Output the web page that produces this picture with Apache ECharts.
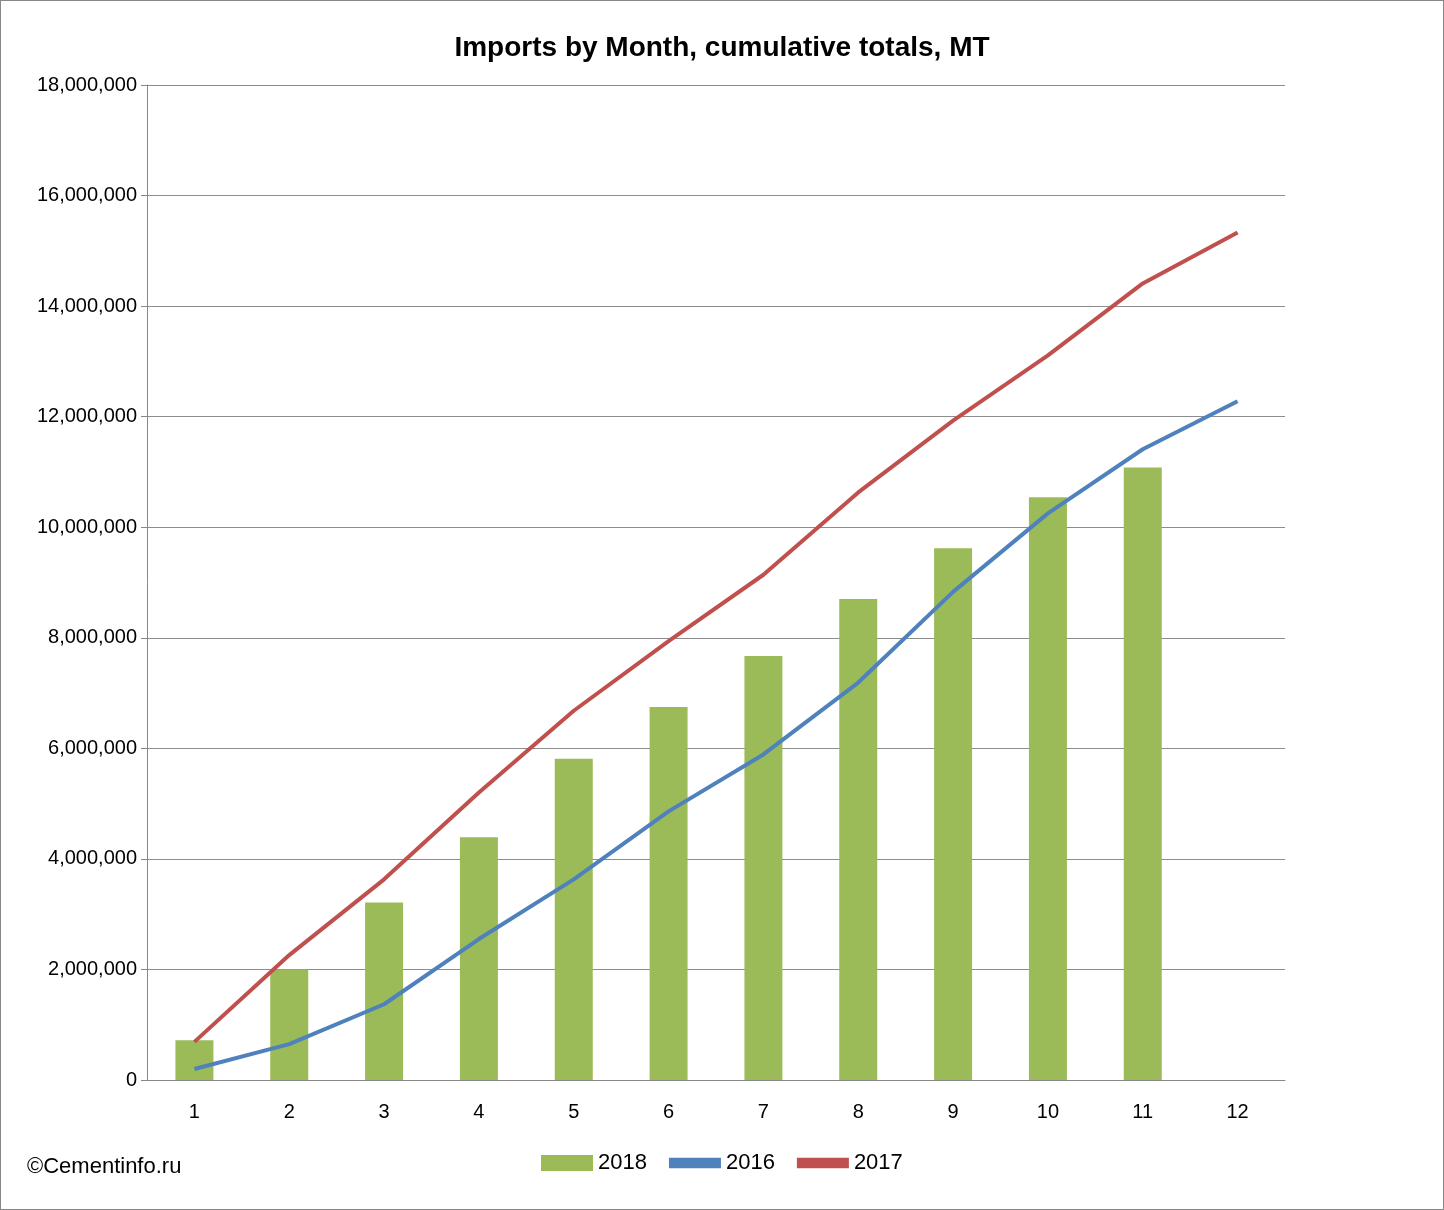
<!DOCTYPE html>
<html><head><meta charset="utf-8">
<script src="https://cdn.jsdelivr.net/npm/echarts@6/dist/echarts.min.js"></script>
<style>html,body{margin:0;padding:0;background:#fff}#c{width:1444px;height:1210px;box-sizing:border-box;border:1px solid #888}</style>
</head><body><div id="c"></div>
<script>
const months = ['1','2','3','4','5','6','7','8','9','10','11','12'];
const s2018 = [720000,2000000,3210000,4390000,5810000,6750000,7670000,8700000,9620000,10540000,11080000,null];
const s2016 = [200000,650000,1370000,2550000,3630000,4860000,5890000,7190000,8830000,10250000,11410000,12280000];
const s2017 = [690000,2260000,3630000,5200000,6680000,7940000,9140000,10630000,11930000,13110000,14410000,15330000];
const yTicks = {min:0,max:18000000,interval:2000000};
const chart = echarts.init(document.getElementById('c'));
const ff = 'Liberation Sans, DejaVu Sans, sans-serif';
chart.setOption({
  animation:false,
  textStyle:{fontFamily:ff},
  title:{text:'Imports by Month, cumulative totals, MT',left:'center',top:28,textStyle:{fontSize:28,fontWeight:'bold',color:'#000',fontFamily:ff}},
  graphic:[{type:'text',left:26,top:1155,style:{text:'©Cementinfo.ru',fontSize:22,fill:'#000',fontFamily:ff}}],
  legend:{bottom:30,left:535,itemWidth:52,itemHeight:16,itemGap:22,textStyle:{fontSize:22,color:'#000'},
    data:[{name:'2018',icon:'rect'},{name:'2016',icon:'path://M0,0h10v2h-10z'},{name:'2017',icon:'path://M0,0h10v2h-10z'}]},
  grid:{left:146,right:158,top:84,bottom:129},
  xAxis:{type:'category',data:months,axisLine:{lineStyle:{color:'#888'}},axisTick:{length:8,lineStyle:{color:'#888'}},
    axisLabel:{fontSize:20,color:'#000',margin:22}},
  yAxis:{type:'value',...yTicks,axisLine:{show:true,lineStyle:{color:'#888'}},axisTick:{show:true,length:6,lineStyle:{color:'#888'}},
    splitLine:{lineStyle:{color:'#8c8c8c',width:1.2}},axisLabel:{fontSize:20,color:'#000',margin:10}},
  series:[
    {name:'2018',type:'bar',data:s2018,barWidth:38,itemStyle:{color:'#9bbb59'}},
    {name:'2016',type:'line',data:s2016,symbol:'none',lineStyle:{color:'#4f81bd',width:4},itemStyle:{color:'#4f81bd'}},
    {name:'2017',type:'line',data:s2017,symbol:'none',lineStyle:{color:'#c0504d',width:4},itemStyle:{color:'#c0504d'}}
  ]
});
</script></body></html>
